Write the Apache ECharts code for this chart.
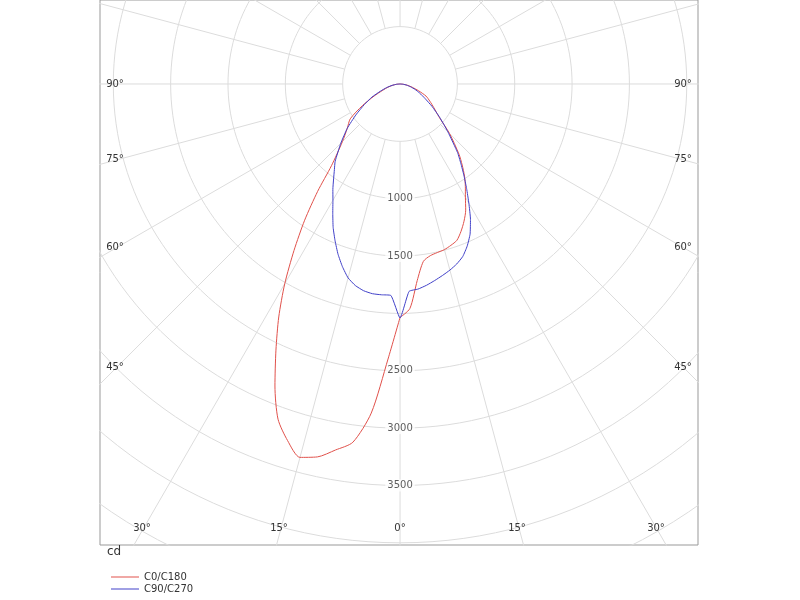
<!DOCTYPE html>
<html>
<head>
<meta charset="utf-8">
<script src="https://cdn.jsdelivr.net/npm/echarts@6/dist/echarts.min.js"></script>
<style>html,body{margin:0;padding:0;background:#fff}#container{width:800px;height:600px}</style>
</head>
<body>
<div id="container"></div>
<script>
// gamma angles (deg from nadir)
var gammas = [0, 2.5, 5, 7.5, 10, 12.5, 15, 17.5, 20, 22.5, 25, 27.5, 30, 32.5, 35, 37.5, 40, 45, 50, 55, 60, 65, 70, 75, 80, 85, 90];
// intensity in cd
var c180 = [2035, 2400, 2880, 3150, 3240, 3330, 3370, 3260, 3110, 2850, 2560, 2290, 2010, 1720, 1450, 1180, 930, 710, 600, 530, 380, 250, 160, 110, 65, 30, 0];
var c0   = [2040, 1960, 1720, 1560, 1520, 1505, 1495, 1475, 1450, 1390, 1320, 1240, 1140, 1060, 980, 890, 800, 610, 440, 360, 300, 250, 170, 110, 65, 30, 0];
var c90  = [2040, 1845, 1845, 1844, 1830, 1800, 1750, 1670, 1580, 1480, 1380, 1270, 1170, 1090, 1010, 940, 880, 730, 600, 470, 360, 270, 180, 120, 70, 30, 0];
var c270 = [2040, 1810, 1795, 1770, 1740, 1710, 1680, 1645, 1600, 1530, 1445, 1330, 1200, 1080, 970, 870, 780, 590, 450, 340, 250, 190, 140, 95, 60, 25, 0];
var radiusTicks = [1000, 1500, 2500, 3000, 3500];
var names = ['C0/C180', 'C90/C270'];

var rad = Math.PI / 180;
function toXY(r, g, side) { return [side * r * Math.sin(g * rad), -r * Math.cos(g * rad)]; }
function curve(leftVals, rightVals) {
    var pts = [];
    for (var i = gammas.length - 1; i >= 0; i--) pts.push(toXY(leftVals[i], gammas[i], -1));
    for (var j = 0; j < gammas.length; j++) pts.push(toXY(rightVals[j], gammas[j], 1));
    return pts;
}

var gridSeries = [];
var gridStyle = { color: '#dcdcdc', width: 1 };
for (var r = 500; r <= 6000; r += 500) {
    var circ = [];
    for (var a = 0; a <= 360; a += 2) circ.push([r * Math.sin(a * rad), -r * Math.cos(a * rad)]);
    gridSeries.push({ type: 'line', data: circ, showSymbol: false, silent: true, lineStyle: gridStyle, z: 1 });
}
for (var a = 0; a < 360; a += 15) {
    gridSeries.push({ type: 'line', silent: true, showSymbol: false, lineStyle: gridStyle, z: 1,
        data: [[500 * Math.sin(a * rad), -500 * Math.cos(a * rad)], [8000 * Math.sin(a * rad), -8000 * Math.cos(a * rad)]] });
}

var tickSeries = {
    type: 'scatter', symbolSize: 0, silent: true, z: 3,
    data: radiusTicks.map(function (v) { return [0, -v]; }),
    label: { show: true, position: 'inside', formatter: function (p) { return String(-p.value[1]); },
        color: '#333', fontSize: 10, fontFamily: 'DejaVu Sans', backgroundColor: '#fff', padding: [1, 2] }
};

var angleLabels = [
    ['90°', 115, 84], ['75°', 115, 159], ['60°', 115, 247], ['45°', 115, 367],
    ['90°', 683, 84], ['75°', 683, 159], ['60°', 683, 247], ['45°', 683, 367],
    ['30°', 142, 528], ['15°', 279, 528], ['0°', 400, 528], ['15°', 517, 528], ['30°', 656, 528]
];
var graphics = angleLabels.map(function (l) {
    return { type: 'text', x: l[1], y: l[2], z: 10,
        style: { text: l[0], fill: '#333', font: '10px DejaVu Sans', align: 'center', verticalAlign: 'middle' } };
});
graphics.push({ type: 'text', x: 107, y: 552, style: { text: 'cd', fill: '#333', font: '12px DejaVu Sans', verticalAlign: 'middle' } });

var legendBase = { left: 106, itemWidth: 28, itemHeight: 1, icon: 'rect',
    textStyle: { fontSize: 10, color: '#333', fontFamily: 'DejaVu Sans' } };

var option = {
    animation: false,
    grid: { left: 100, top: 0, width: 598, height: 545, show: true, borderColor: '#999', borderWidth: 1 },
    xAxis: { type: 'value', min: -2616, max: 2598, show: false },
    yAxis: { type: 'value', min: -4019, max: 732, show: false },
    legend: [
        Object.assign({ top: 567, data: [names[0]] }, legendBase),
        Object.assign({ top: 579, data: [names[1]] }, legendBase)
    ],
    graphic: graphics,
    series: gridSeries.concat([
        tickSeries,
        { name: names[0], type: 'line', data: curve(c180, c0), showSymbol: false, z: 5, smooth: 0.25,
          lineStyle: { color: '#e0504a', width: 1 }, itemStyle: { color: '#e0504a' } },
        { name: names[1], type: 'line', data: curve(c90, c270), showSymbol: false, z: 6, smooth: 0.15,
          lineStyle: { color: '#4040c8', width: 1 }, itemStyle: { color: '#4040c8' } }
    ])
};

var myChart = echarts.init(document.getElementById('container'));
myChart.setOption(option);
</script>
</body>
</html>
